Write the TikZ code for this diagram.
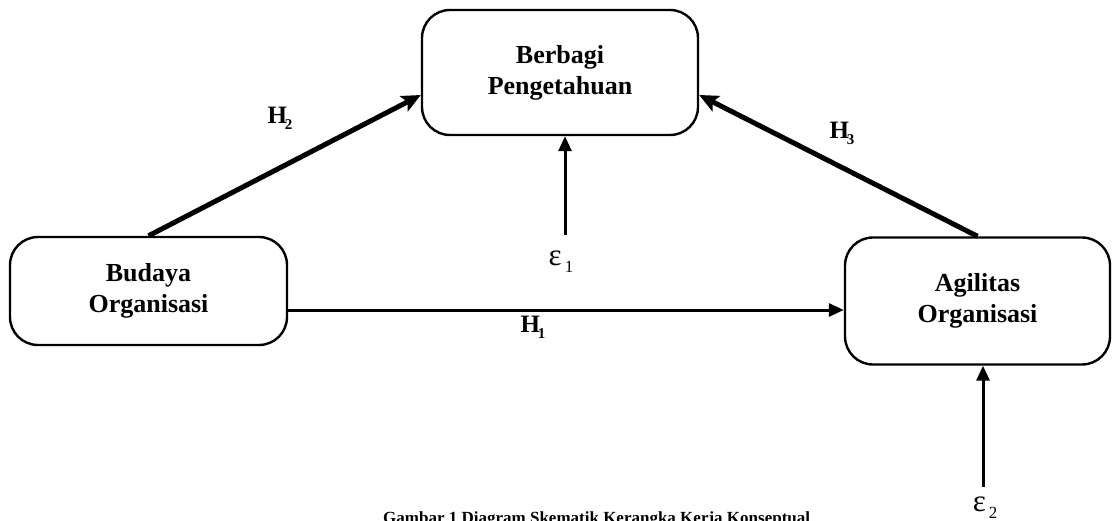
\documentclass[tikz,border=0pt]{standalone}
\usepackage{fontspec}
\setmainfont{Liberation Serif}
\usetikzlibrary{arrows.meta,calc}
\begin{document}
\begin{tikzpicture}[x=1pt,y=-1pt,
  varbox/.style={draw,line width=2.4pt,rounded corners=28pt,align=center,
    font=\fontsize{26}{31}\selectfont\bfseries,inner sep=0pt},
  heavy/.style={line width=5pt,-{Stealth[length=19pt,width=17pt,inset=4pt]}},
  medium/.style={line width=3pt,-{Triangle[length=15pt,width=13pt]}},
  hlabel/.style={font=\fontsize{25}{25}\selectfont\bfseries,inner sep=0pt},
  elabel/.style={font=\fontsize{31}{31}\selectfont,inner sep=0pt}]
\useasboundingbox (0,0) rectangle (1113,521);
\clip (0,0) rectangle (1113,521);
\node[varbox,minimum width=276pt,minimum height=125pt] (bp) at (560,72.5) {Berbagi\\Pengetahuan};
\node[varbox,minimum width=277pt,minimum height=108pt] (bo) at (148.5,291) {Budaya\\Organisasi};
\node[varbox,minimum width=265pt,minimum height=127pt] (ao) at (977.5,301) {Agilitas\\Organisasi};
\coordinate (e1) at (565,235);
\coordinate (e2) at (983,487);
\draw[medium] (bo.east |- 0,310) -- (ao.west |- 0,310);
\draw[heavy] (bo.north) -- ($(bp.west)+(0,22.5)$);
\draw[heavy] (ao.north) -- ($(bp.east)+(0,22.5)$);
\draw[medium] (e1) -- (e1 |- bp.south);
\draw[medium] (e2) -- (e2 |- ao.south);
\node[hlabel] (h1) at (533,327) {H\kern-2pt\raisebox{-6pt}{\fontsize{15}{15}\selectfont 1}};
\node[hlabel] (h2) at (280,118) {H\kern-2pt\raisebox{-6pt}{\fontsize{15}{15}\selectfont 2}};
\node[hlabel] (h3) at (842,133) {H\kern-2pt\raisebox{-6pt}{\fontsize{15}{15}\selectfont 3}};
\node[elabel] (l1) at (561,262) {ε\kern3pt\raisebox{-7pt}{\fontsize{17}{17}\selectfont 1}};
\node[elabel] (l2) at (985,508) {ε\kern3pt\raisebox{-7pt}{\fontsize{17}{17}\selectfont 2}};
\node[anchor=base west,inner sep=0pt,font=\fontsize{17}{17}\selectfont\bfseries] (cap) at (383,523) {Gambar 1 Diagram Skematik Kerangka Kerja Konseptual};
\end{tikzpicture}
\end{document}
